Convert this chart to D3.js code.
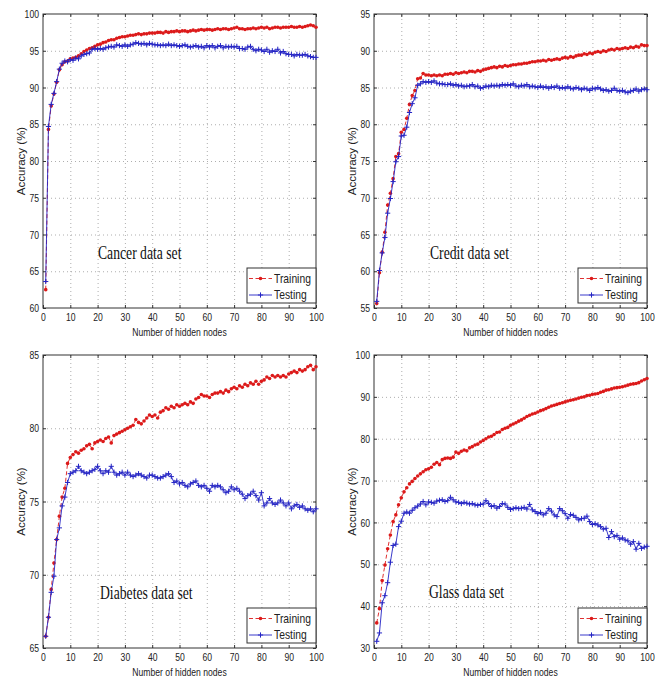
<!DOCTYPE html>
<html>
<head>
<meta charset="utf-8">
<script src="https://cdn.jsdelivr.net/npm/d3@7/dist/d3.min.js"></script>
<style>
  body { margin: 0; background: #fff; }
  svg { display: block; }
</style>
</head>
<body>
<svg id="chart" width="662" height="680"></svg>
<script>
// Hidden-node counts on the x axis
const hiddenNodes = d3.range(1, 101);
const xTickValues = [0, 10, 20, 30, 40, 50, 60, 70, 80, 90, 100];

// ---- Cancer data set ----
const cancerTicks = [60, 65, 70, 75, 80, 85, 90, 95, 100];
const cancerTraining = [
  62.5, 84.3, 87.5, 89.1, 90.7, 92.4, 93.1, 93.5, 93.6, 93.9,
  94.0, 94.1, 94.3, 94.6, 94.9, 95.1, 95.3, 95.4, 95.6, 95.8,
  95.9, 96.1, 96.2, 96.4, 96.5, 96.5, 96.7, 96.8, 96.9, 96.9,
  97.0, 97.1, 97.1, 97.2, 97.3, 97.2, 97.3, 97.3, 97.4, 97.4,
  97.4, 97.5, 97.5, 97.4, 97.6, 97.5, 97.6, 97.6, 97.7, 97.6,
  97.7, 97.7, 97.6, 97.7, 97.8, 97.7, 97.8, 97.9, 97.8, 97.9,
  97.9, 97.8, 97.9, 98.0, 97.9, 98.0, 98.0, 97.9, 98.0, 98.1,
  98.2, 98.0, 98.0, 97.9, 98.0, 98.0, 98.1, 98.0, 98.1, 98.2,
  98.1, 98.2, 98.0, 98.1, 98.2, 98.2, 98.1, 98.2, 98.2, 98.2,
  98.3, 98.2, 98.2, 98.3, 98.2, 98.3, 98.4, 98.5, 98.4, 98.2
];
const cancerTesting = [
  63.6, 84.7, 87.7, 89.2, 90.8, 92.5, 93.3, 93.6, 93.5, 93.8,
  93.7, 94.0, 93.9, 94.3, 94.5, 94.6, 94.7, 95.2, 95.3, 95.2,
  95.3, 95.2, 95.4, 95.5, 95.6, 95.5, 95.8, 95.7, 95.6, 95.8,
  95.6, 95.8, 95.9, 96.1, 96.0, 95.9, 96.0, 95.8, 96.0, 95.9,
  95.8, 95.8, 95.7, 95.8, 95.7, 95.9, 95.7, 95.8, 95.7, 95.6,
  95.7, 95.8, 95.6, 95.5, 95.6, 95.7, 95.5, 95.6, 95.4, 95.7,
  95.5, 95.7, 95.4, 95.6, 95.7, 95.4, 95.6, 95.5, 95.6, 95.5,
  95.6, 95.3, 95.3, 95.2, 95.5, 95.6, 95.2, 95.0, 95.2, 95.1,
  94.9, 95.2, 94.8, 95.0, 94.9, 95.2, 94.7, 94.9, 94.6, 94.5,
  94.5, 94.3, 94.5, 94.4, 94.4, 94.5, 94.3, 94.2, 94.1, 94.1
];

// ---- Credit data set ----
const creditTicks = [55, 60, 65, 70, 75, 80, 85, 90, 95];
const creditTraining = [
  55.6, 59.8, 62.6, 65.3, 69.0, 70.6, 72.6, 75.6, 76.0, 78.9,
  79.3, 80.8, 82.7, 83.9, 84.6, 86.2, 86.3, 86.9, 86.7, 86.7,
  86.6, 86.7, 86.6, 86.7, 86.6, 86.8, 86.8, 86.9, 86.8, 87.0,
  86.9, 87.0, 87.1, 87.0, 87.2, 87.2, 87.1, 87.3, 87.2, 87.4,
  87.5, 87.6, 87.7, 87.8, 87.7, 87.9, 87.8, 88.0, 87.9, 88.0,
  88.1, 88.1, 88.2, 88.2, 88.3, 88.3, 88.4, 88.5, 88.5, 88.6,
  88.6, 88.7, 88.6, 88.8, 88.7, 88.8, 88.9, 88.8, 89.0, 89.1,
  89.0, 89.2, 89.1, 89.3, 89.4, 89.4, 89.6, 89.5, 89.7, 89.6,
  89.8, 89.9, 89.8, 90.0, 89.9, 90.1, 90.2, 90.1, 90.3, 90.2,
  90.3, 90.4, 90.3, 90.5, 90.4, 90.6, 90.5, 90.8, 90.7, 90.7
];
const creditTesting = [
  55.9, 60.1, 62.5, 64.6, 67.9, 69.9, 72.2, 74.9, 75.6, 78.4,
  78.5, 79.6, 81.6, 82.8, 83.6, 85.3, 85.5, 85.8, 85.7, 85.8,
  85.7, 85.9, 85.6, 85.5, 85.5, 85.4, 85.4, 85.5, 85.3, 85.4,
  85.2, 85.3, 85.1, 85.2, 85.2, 85.4, 85.1, 85.2, 84.9, 85.0,
  85.2, 85.1, 85.3, 85.2, 85.3, 85.2, 85.4, 85.3, 85.4, 85.3,
  85.5, 85.2, 85.1, 85.3, 85.2, 85.4, 85.1, 85.2, 85.1, 85.0,
  85.2, 85.0, 85.1, 84.9, 85.1, 85.0, 85.2, 84.9, 85.0, 84.9,
  85.1, 84.9, 84.8, 85.0, 84.9, 84.7, 84.9, 84.8, 84.6, 84.9,
  84.8, 85.0, 84.8, 84.6, 84.7, 84.5, 84.6, 84.9, 84.6, 84.5,
  84.6, 84.4, 84.3, 84.5, 84.6, 84.8, 84.5, 84.7, 84.8, 84.7
];

// ---- Diabetes data set ----
const diabetesTicks = [65, 70, 75, 80, 85];
const diabetesTraining = [
  65.8, 67.1, 69.0, 70.8, 72.4, 74.0, 75.3, 75.9, 77.6, 78.0,
  78.2, 78.4, 78.3, 78.5, 78.6, 78.8, 78.9, 78.6, 79.0, 79.1,
  79.2, 79.1, 79.3, 79.4, 79.0, 79.5, 79.6, 79.7, 79.8, 79.9,
  80.0, 80.1, 80.2, 80.6, 80.4, 80.3, 80.5, 80.7, 80.9, 80.8,
  80.9, 80.7, 81.1, 81.2, 81.4, 81.3, 81.5, 81.4, 81.6, 81.5,
  81.6, 81.7, 81.6, 81.8, 81.7, 82.0, 82.1, 82.3, 82.2, 82.2,
  82.1, 82.3, 82.4, 82.4, 82.5, 82.4, 82.6, 82.5, 82.7, 82.8,
  82.7, 82.9, 82.8, 83.0, 82.9, 83.1, 83.0, 83.2, 83.0, 83.2,
  83.3, 83.5, 83.4, 83.6, 83.5, 83.6, 83.5, 83.6, 83.5, 83.7,
  83.8, 83.9, 83.8, 84.0, 83.9, 84.0, 84.2, 84.3, 84.0, 84.2
];
const diabetesTesting = [
  65.8, 67.1, 68.8, 69.9, 72.4, 73.2, 74.7, 75.3, 76.3, 76.9,
  77.0, 77.1, 77.4, 77.1, 77.0, 76.9, 77.0, 77.1, 77.2, 77.4,
  77.1, 76.9, 77.1, 77.0, 77.4, 77.0, 76.8, 76.9, 77.0, 76.8,
  77.0, 76.8, 76.7, 76.8, 76.9, 76.8, 76.7, 76.6, 76.8, 76.8,
  76.7, 76.6, 76.6, 76.7, 76.8, 76.9, 76.7, 76.3, 76.4, 76.2,
  76.3, 76.1, 76.0, 76.2, 76.3, 76.4, 76.1, 76.0, 76.1, 75.9,
  75.7, 76.1, 76.0, 76.1, 76.0, 75.8, 75.6, 75.7, 76.0, 75.8,
  75.9, 75.7, 75.5, 75.2, 75.4, 75.5, 75.7, 75.4, 75.1, 75.6,
  74.7, 74.9, 75.2, 74.9, 74.8, 74.9, 75.1, 74.9, 74.7, 74.9,
  74.5, 74.7, 74.8, 74.6, 74.7, 74.5, 74.4, 74.5, 74.3, 74.5
];

// ---- Glass data set ----
const glassTicks = [30, 40, 50, 60, 70, 80, 90, 100];
const glassTraining = [
  36.0, 39.4, 46.1, 49.8, 53.7, 57.0, 60.2, 61.8, 64.2, 65.9,
  67.3, 68.3, 69.2, 69.8, 70.5, 71.1, 71.6, 72.1, 72.6, 72.8,
  73.2, 73.9, 74.3, 73.8, 75.0, 75.3, 75.4, 75.3, 75.6, 76.8,
  76.5, 77.0, 77.3, 77.1, 77.8, 78.1, 78.5, 78.7, 79.2, 79.6,
  80.0, 80.4, 80.6, 81.0, 81.5, 81.6, 82.2, 82.5, 82.7, 83.2,
  83.5, 83.8, 84.2, 84.5, 84.9, 85.3, 85.6, 85.9, 86.1, 86.4,
  86.7, 86.9, 87.2, 87.5, 87.8, 88.0, 88.2, 88.4, 88.6, 88.8,
  89.0, 89.2, 89.3, 89.5, 89.7, 89.9, 90.0, 90.3, 90.4, 90.6,
  90.7, 90.8, 91.1, 91.3, 91.6, 91.7, 91.9, 92.1, 92.2, 92.3,
  92.4, 92.6, 92.8, 93.0, 93.1, 93.2, 93.4, 93.8, 94.1, 94.4
];
const glassTesting = [
  31.6, 33.6, 40.8, 42.5, 45.6, 50.5, 54.5, 54.8, 59.0, 60.3,
  62.2, 62.5, 62.2, 62.9, 63.5, 63.9, 64.4, 65.0, 64.2, 64.9,
  64.8, 64.6, 65.1, 65.3, 65.4, 65.0, 65.2, 66.0, 65.4, 64.9,
  64.8, 64.5, 64.8, 64.6, 64.4, 64.5, 64.2, 64.1, 64.3, 64.4,
  65.2, 64.5, 63.8, 64.0, 63.4, 63.8, 64.5, 64.4, 63.6, 63.1,
  63.3, 63.5, 63.3, 63.4, 63.6, 63.2, 64.3, 63.0, 62.6, 62.1,
  62.4, 61.8, 62.2, 63.3, 62.7, 61.8, 61.4, 63.3, 62.8, 62.1,
  61.0, 61.9, 61.7, 61.2, 60.6, 60.9, 61.0, 61.5, 60.2, 59.5,
  59.7, 59.4, 59.0, 58.4, 58.6, 56.4, 57.8, 56.6, 56.9, 56.0,
  56.3, 55.8, 55.6, 54.8, 55.4, 53.6, 55.0, 53.8, 54.1, 54.3
];

const seriesNames = ["Training", "Testing"];
const titles = ["Cancer data set", "Credit data set", "Diabetes data set", "Glass data set"];
const xLabel = "Number of hidden nodes";
const yLabel = "Accuracy (%)";

// ---- layout ----
const SANS = "'Liberation Sans',Arial,Helvetica,sans-serif";
const SERIF = "'Liberation Serif','Times New Roman',serif";
const SQUEEZE = 0.75;   // horizontal compression of the sans labels
const RED = "#dc1a1a";
const BLUE = "#2424c4";

const panels = [
  { title: titles[0], train: cancerTraining, test: cancerTesting, ticks: cancerTicks,
    box: { l: 43, r: 316, t: 14, b: 308 }, titleAt: [98, 259] },
  { title: titles[1], train: creditTraining, test: creditTesting, ticks: creditTicks,
    box: { l: 374, r: 647, t: 14, b: 308 }, titleAt: [430, 259] },
  { title: titles[2], train: diabetesTraining, test: diabetesTesting, ticks: diabetesTicks,
    box: { l: 43, r: 316, t: 355, b: 648 }, titleAt: [100, 599] },
  { title: titles[3], train: glassTraining, test: glassTesting, ticks: glassTicks,
    box: { l: 374, r: 647, t: 355, b: 648 }, titleAt: [429, 598] }
];

const svg = d3.select("#chart");

function plusPath(s) {
  return `M${-s},0H${s}M0,${-s}V${s}`;
}

panels.forEach(p => {
  const { l, r, t, b } = p.box;
  const x = d3.scaleLinear().domain([0, 100]).range([l, r]);
  const y = d3.scaleLinear().domain([p.ticks[0], p.ticks[p.ticks.length - 1]]).range([b, t]);
  const g = svg.append("g");

  // dotted grid
  const gridStyle = sel => {
    sel.select(".domain").remove();
    sel.selectAll(".tick line")
      .attr("stroke", "#999")
      .attr("stroke-width", 0.8)
      .attr("stroke-dasharray", "1,3");
  };
  g.append("g")
    .attr("transform", `translate(0,${b})`)
    .call(d3.axisBottom(x).tickValues(xTickValues.slice(1, -1)).tickSize(-(b - t)).tickFormat(""))
    .call(gridStyle);
  g.append("g")
    .attr("transform", `translate(${l},0)`)
    .call(d3.axisLeft(y).tickValues(p.ticks.slice(1, -1)).tickSize(-(r - l)).tickFormat(""))
    .call(gridStyle);

  // axes with inward ticks
  const axisStyle = sel => {
    sel.select(".domain").remove();
    sel.selectAll(".tick line").attr("stroke", "#333");
    sel.selectAll(".tick text")
      .attr("fill", "#222")
      .attr("transform", `scale(${SQUEEZE},1)`)
      .style("font-family", SANS)
      .style("font-size", "11.5px");
  };
  g.append("g")
    .attr("transform", `translate(0,${b})`)
    .call(d3.axisBottom(x).tickValues(xTickValues).tickSize(-3).tickPadding(5).tickFormat(d3.format("d")))
    .call(axisStyle);
  g.append("g")
    .attr("transform", `translate(0,${t})`)
    .call(d3.axisTop(x).tickValues(xTickValues).tickSize(-3).tickFormat(""))
    .call(axisStyle);
  g.append("g")
    .attr("transform", `translate(${l},0)`)
    .call(d3.axisLeft(y).tickValues(p.ticks).tickSize(-3).tickPadding(4).tickFormat(d3.format("d")))
    .call(axisStyle)
    .call(sel => sel.selectAll(".tick text").attr("x", -4 / SQUEEZE));
  g.append("g")
    .attr("transform", `translate(${r},0)`)
    .call(d3.axisRight(y).tickValues(p.ticks).tickSize(-3).tickFormat(""))
    .call(axisStyle);

  // frame
  g.append("rect")
    .attr("x", l).attr("y", t)
    .attr("width", r - l).attr("height", b - t)
    .attr("fill", "none").attr("stroke", "#333").attr("stroke-width", 1);

  // axis labels
  g.append("text")
    .attr("transform", `translate(${(l + r) / 2},${b + 28}) scale(${SQUEEZE},1)`)
    .attr("text-anchor", "middle")
    .style("font-family", SANS).style("font-size", "11.5px").attr("fill", "#222")
    .text(xLabel);
  g.append("text")
    .attr("transform", `translate(${l - 18},${(t + b) / 2}) rotate(-90)`)
    .attr("text-anchor", "middle")
    .style("font-family", SANS).style("font-size", "11.5px").attr("fill", "#222")
    .text(yLabel);

  // data
  const trainPts = hiddenNodes.map((n, i) => ({ n, v: p.train[i] }));
  const testPts = hiddenNodes.map((n, i) => ({ n, v: p.test[i] }));
  const line = d3.line().x(d => x(d.n)).y(d => y(d.v));

  g.append("path")
    .datum(trainPts)
    .attr("d", line)
    .attr("fill", "none").attr("stroke", RED).attr("stroke-width", 0.9)
    .attr("stroke-dasharray", "4,2.5");
  g.append("g").selectAll("circle")
    .data(trainPts).join("circle")
    .attr("cx", d => x(d.n)).attr("cy", d => y(d.v))
    .attr("r", 1.8).attr("fill", RED);

  g.append("path")
    .datum(testPts)
    .attr("d", line)
    .attr("fill", "none").attr("stroke", BLUE).attr("stroke-width", 0.9);
  g.append("g").selectAll("path")
    .data(testPts).join("path")
    .attr("transform", d => `translate(${x(d.n)},${y(d.v)})`)
    .attr("d", plusPath(2.6))
    .attr("stroke", BLUE).attr("stroke-width", 1).attr("fill", "none");

  // data-set title
  g.append("text")
    .attr("transform", `translate(${p.titleAt[0]},${p.titleAt[1]}) scale(0.76,1)`)
    .style("font-family", SERIF).style("font-size", "18px").attr("fill", "#111")
    .text(p.title);

  // legend
  const lg = g.append("g").attr("transform", `translate(${r - 69},${b - 40})`);
  lg.append("rect")
    .attr("width", 69).attr("height", 35)
    .attr("fill", "#fff").attr("stroke", "#333").attr("stroke-width", 1);
  const rows = [
    { name: seriesNames[0], color: RED, dash: "4,2.5", marker: "dot", yy: 10.5 },
    { name: seriesNames[1], color: BLUE, dash: null, marker: "plus", yy: 27 }
  ];
  rows.forEach(row => {
    lg.append("line")
      .attr("x1", 2).attr("x2", 25).attr("y1", row.yy).attr("y2", row.yy)
      .attr("stroke", row.color).attr("stroke-width", 0.9)
      .attr("stroke-dasharray", row.dash);
    if (row.marker === "dot") {
      lg.append("circle").attr("cx", 13.5).attr("cy", row.yy).attr("r", 1.8).attr("fill", row.color);
    } else {
      lg.append("path").attr("transform", `translate(13.5,${row.yy})`)
        .attr("d", plusPath(2.6)).attr("stroke", row.color).attr("fill", "none");
    }
    lg.append("text")
      .attr("transform", `translate(27,${row.yy + 4}) scale(0.86,1)`)
      .style("font-family", SANS).style("font-size", "12px").attr("fill", "#222")
      .text(row.name);
  });
});
</script>
</body>
</html>
